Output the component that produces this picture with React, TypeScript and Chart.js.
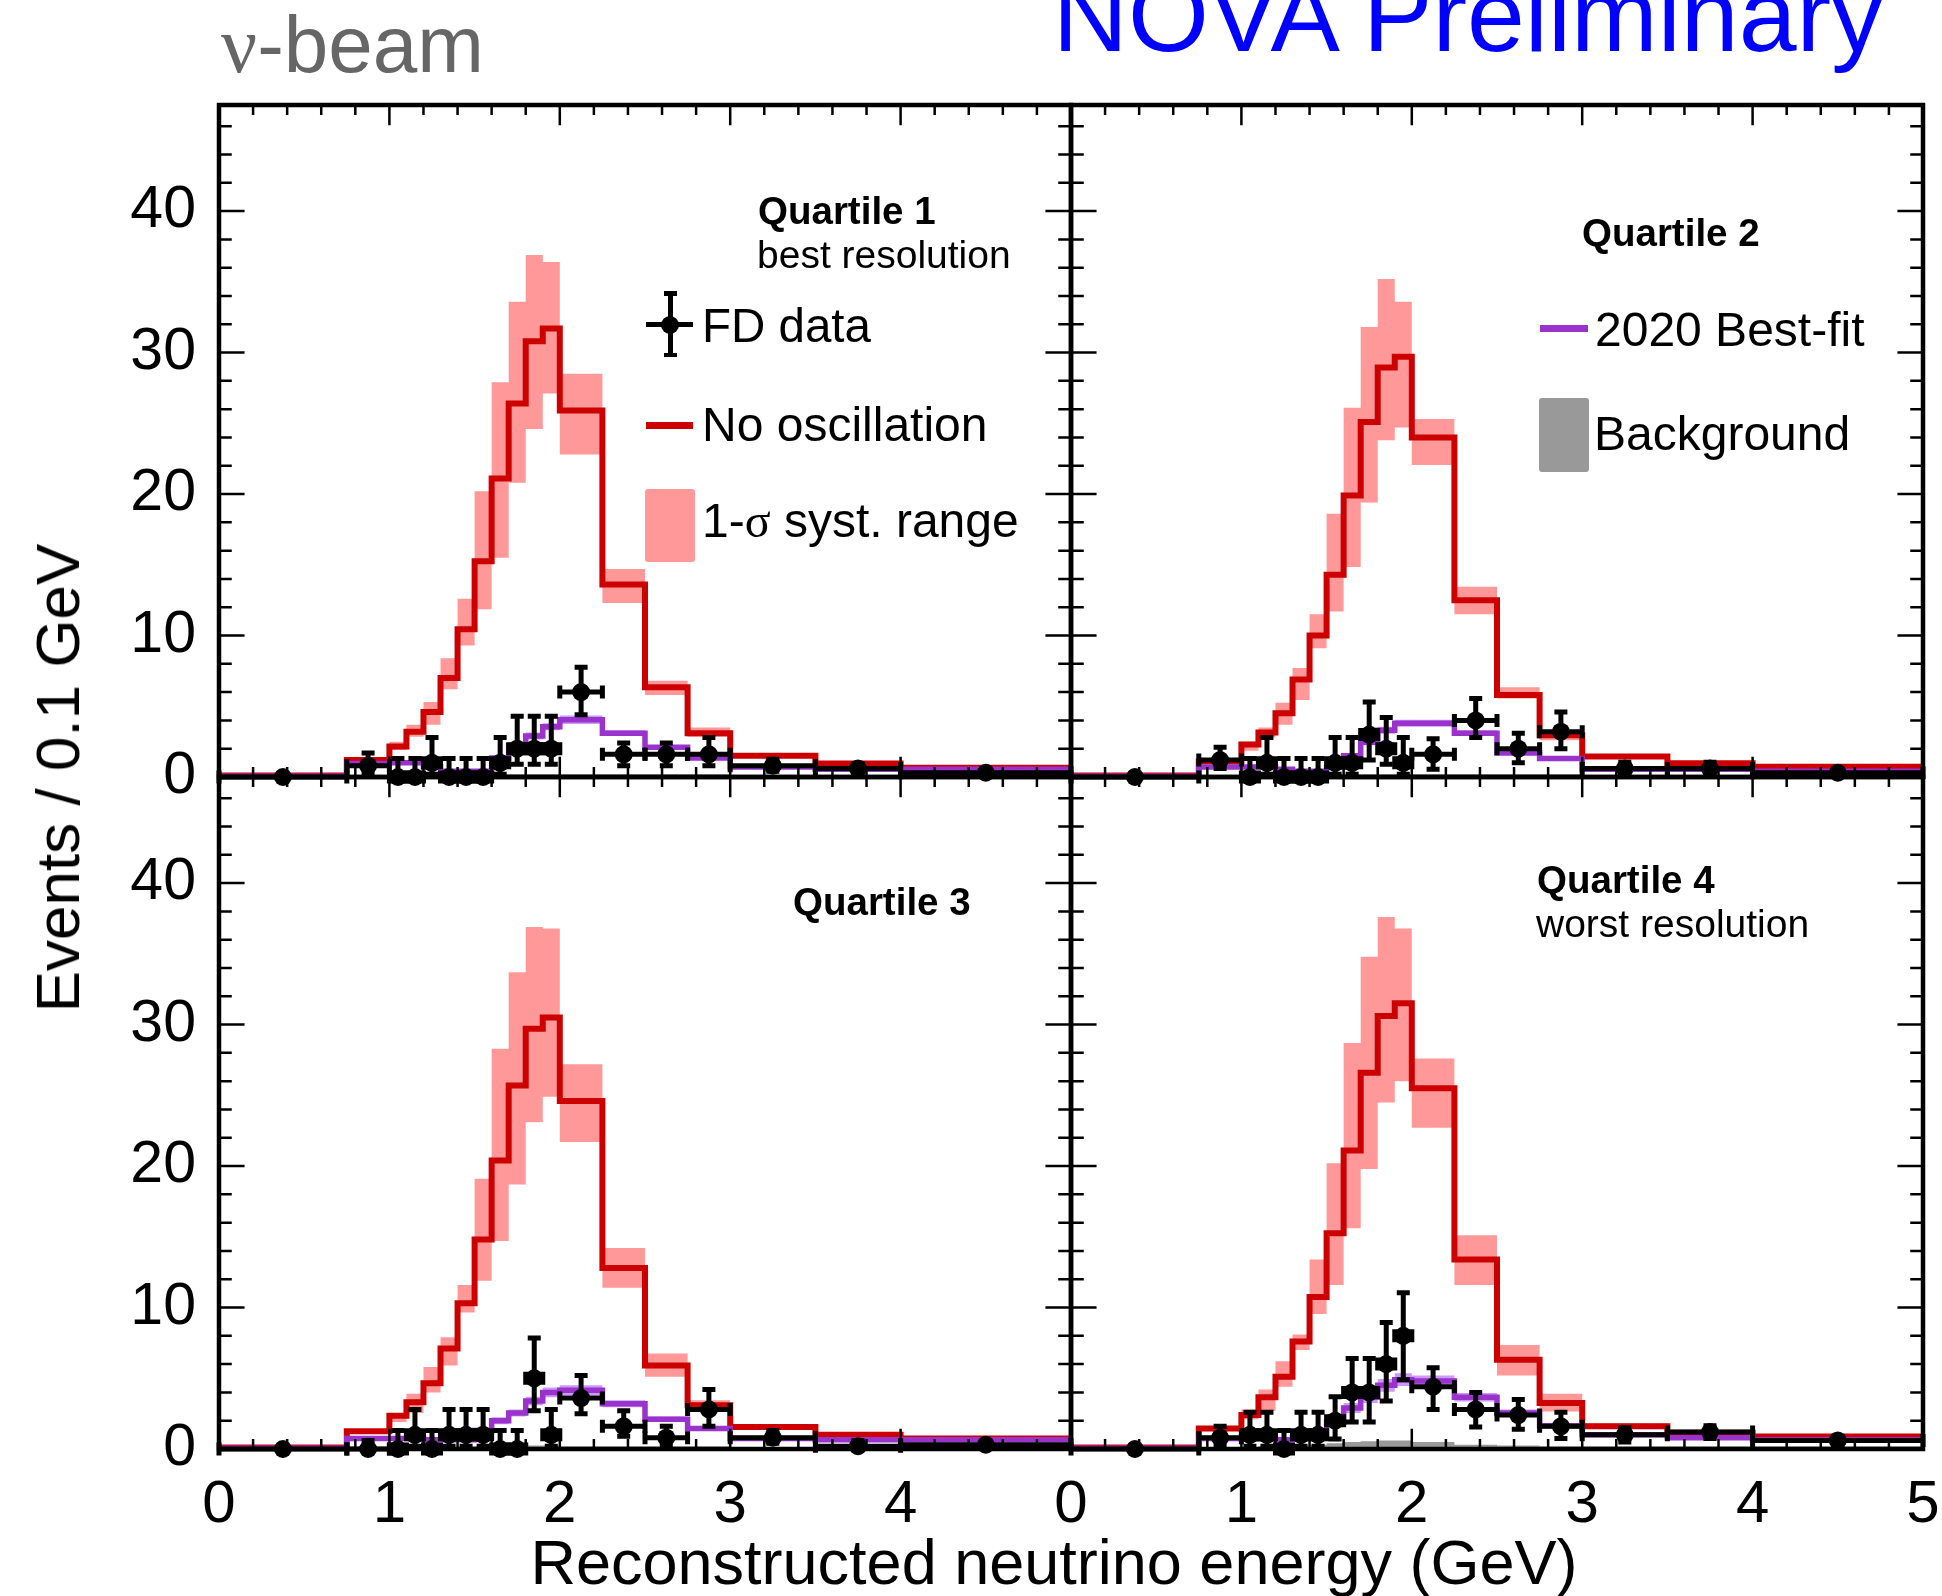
import React, { useEffect, useRef } from 'react';
import { Chart, registerables } from 'chart.js';

Chart.register(...registerables);

const W = 1942;
const H = 1596;
const FONT = '"Liberation Sans", Arial, Helvetica, sans-serif';
const SERIF = '"Liberation Serif", "DejaVu Serif", serif';

// frame edges of the 2x2 panel grid
const PX = [219, 1071, 1923];
const PY = [105, 777, 1449];

const X_MIN = 0;
const X_MAX = 5;
const Y_MAX = 47.5;

const binEdges = [0, 0.75, 1.0, 1.1, 1.2, 1.3, 1.4, 1.5, 1.6, 1.7, 1.8, 1.9, 2.0, 2.25, 2.5, 2.75, 3.0, 3.5, 4.0, 5.0];

const xLabelsLeft = [0, 1, 2, 3, 4];
const xLabelsRight = [0, 1, 2, 3, 4, 5];
const yLabels = [0, 10, 20, 30, 40];
const xMinorStep = 0.2;
const yMinorStep = 2;

// ---- Quartile 1
const q1NoOsc = [0.1, 1.2, 2.15, 3.2, 4.6, 7.0, 10.45, 15.25, 21.1, 26.4, 30.8, 31.7, 25.9, 13.6, 6.35, 3.1, 1.5, 0.95, 0.65];
const q1SystLo = [0.05, 1.05, 1.9, 2.85, 3.7, 6.2, 9.3, 11.85, 15.5, 20.8, 24.6, 27.1, 22.8, 12.3, 5.8, 2.85, 1.35, 0.85, 0.58];
const q1SystHi = [0.15, 1.4, 2.5, 3.7, 5.3, 8.4, 12.6, 20.2, 27.9, 33.6, 36.9, 36.4, 28.5, 14.7, 6.8, 3.5, 1.65, 1.05, 0.72];
const q1Fit = [0.05, 0.95, 1.0, 1.0, 0.7, 0.4, 0.4, 0.4, 1.35, 2.2, 2.9, 3.55, 4.05, 3.1, 2.1, 1.35, 0.7, 0.55, 0.55];
const q1FitLo = [0.03, 0.85, 0.9, 0.9, 0.6, 0.3, 0.3, 0.3, 1.2, 2.0, 2.65, 3.3, 3.75, 2.9, 1.95, 1.25, 0.65, 0.5, 0.5];
const q1FitHi = [0.07, 1.05, 1.1, 1.1, 0.8, 0.5, 0.5, 0.5, 1.5, 2.4, 3.15, 3.8, 4.35, 3.3, 2.25, 1.45, 0.75, 0.6, 0.6];
const q1Bkg = [0, 0.15, 0.15, 0.15, 0.15, 0.15, 0.15, 0.2, 0.2, 0.2, 0.2, 0.2, 0.2, 0.2, 0.2, 0.2, 0.15, 0.15, 0.15];
const q1Data = [0, 0.8, 0, 0, 1.0, 0, 0, 0, 1.0, 2.0, 2.0, 2.0, 6.0, 1.6, 1.6, 1.6, 0.8, 0.6, 0.3];
const q1DataLo = [0, 0.3, 0, 0, 0.2, 0, 0, 0, 0.2, 0.9, 0.9, 0.9, 4.4, 0.8, 0.8, 0.8, 0.4, 0.3, 0.12];
const q1DataHi = [0.15, 1.7, 1.3, 1.3, 2.8, 1.3, 1.3, 1.3, 2.8, 4.3, 4.3, 4.3, 7.75, 2.4, 2.4, 2.8, 1.25, 0.95, 0.5];

// ---- Quartile 2
const q2NoOsc = [0.1, 1.1, 2.3, 3.15, 4.5, 6.9, 10.0, 14.3, 19.9, 25.1, 28.95, 29.7, 24.0, 12.5, 5.8, 2.95, 1.45, 0.97, 0.72];
const q2SystLo = [0.05, 0.95, 1.85, 2.8, 3.7, 5.45, 9.1, 11.7, 14.85, 19.4, 23.8, 24.7, 22.05, 11.5, 5.55, 2.6, 1.3, 0.9, 0.65];
const q2SystHi = [0.15, 1.3, 2.5, 3.5, 5.25, 7.7, 11.5, 18.6, 26.1, 31.8, 35.2, 33.6, 25.3, 13.45, 6.35, 3.2, 1.6, 1.05, 0.8];
const q2Fit = [0.05, 0.7, 0.7, 0.7, 0.55, 0.4, 0.4, 0.7, 1.5, 2.45, 3.3, 3.8, 3.8, 3.1, 1.7, 1.3, 0.55, 0.55, 0.4];
const q2FitLo = [0.03, 0.6, 0.6, 0.6, 0.45, 0.3, 0.3, 0.6, 1.35, 2.25, 3.05, 3.55, 3.55, 2.9, 1.55, 1.2, 0.5, 0.5, 0.35];
const q2FitHi = [0.07, 0.8, 0.8, 0.8, 0.65, 0.5, 0.5, 0.8, 1.65, 2.65, 3.55, 4.05, 4.05, 3.3, 1.85, 1.4, 0.6, 0.6, 0.45];
const q2Bkg = [0, 0.15, 0.15, 0.15, 0.15, 0.15, 0.15, 0.2, 0.2, 0.2, 0.2, 0.2, 0.2, 0.2, 0.2, 0.2, 0.15, 0.15, 0.15];
const q2Data = [0, 1.2, 0, 1.0, 0, 0, 0, 1.0, 1.0, 3.0, 2.0, 1.0, 1.6, 4.0, 2.0, 3.2, 0.6, 0.6, 0.3];
const q2DataLo = [0, 0.6, 0, 0.2, 0, 0, 0, 0.2, 0.2, 1.2, 0.9, 0.2, 0.55, 2.8, 1.0, 2.0, 0.3, 0.3, 0.12];
const q2DataHi = [0.15, 2.1, 1.3, 2.8, 1.3, 1.3, 1.3, 2.8, 2.8, 5.3, 4.2, 2.8, 2.7, 5.55, 3.1, 4.6, 1.05, 1.05, 0.5];

// ---- Quartile 3
const q3NoOsc = [0.1, 1.25, 2.35, 3.3, 4.65, 7.1, 10.3, 14.8, 20.4, 25.7, 29.7, 30.5, 24.6, 12.8, 5.9, 3.1, 1.55, 1.0, 0.75];
const q3SystLo = [0.05, 1.1, 1.9, 2.55, 4.0, 5.9, 9.65, 11.9, 14.7, 18.7, 23.1, 24.9, 21.7, 11.4, 5.1, 2.8, 1.4, 0.9, 0.7];
const q3SystHi = [0.15, 1.4, 2.55, 3.9, 5.8, 7.9, 11.6, 19.1, 28.3, 33.7, 36.9, 36.8, 27.2, 14.2, 6.75, 3.45, 1.7, 1.1, 0.82];
const q3Fit = [0.05, 0.75, 0.75, 0.75, 0.65, 0.65, 0.65, 1.3, 2.0, 2.55, 3.4, 4.0, 4.15, 3.2, 2.1, 1.45, 0.75, 0.65, 0.65];
const q3FitLo = [0.03, 0.6, 0.6, 0.6, 0.5, 0.5, 0.5, 1.1, 1.75, 2.3, 3.1, 3.65, 3.8, 2.95, 1.9, 1.3, 0.65, 0.55, 0.55];
const q3FitHi = [0.07, 0.9, 0.9, 0.9, 0.8, 0.8, 0.8, 1.5, 2.25, 2.8, 3.7, 4.35, 4.5, 3.45, 2.3, 1.6, 0.85, 0.75, 0.75];
const q3Bkg = [0, 0.15, 0.15, 0.15, 0.15, 0.15, 0.2, 0.2, 0.2, 0.25, 0.25, 0.25, 0.2, 0.2, 0.2, 0.2, 0.15, 0.15, 0.15];
const q3Data = [0, 0, 0, 1.0, 0, 1.0, 1.0, 1.0, 0, 0, 5.0, 1.0, 3.6, 1.6, 0.8, 2.8, 0.8, 0.2, 0.3];
const q3DataLo = [0, 0, 0, 0.2, 0, 0.2, 0.2, 0.2, 0, 0, 2.7, 0.2, 2.5, 0.9, 0.2, 1.6, 0.4, 0.05, 0.12];
const q3DataHi = [0.15, 0.6, 1.3, 2.8, 1.3, 2.8, 2.8, 2.8, 1.3, 1.3, 7.85, 2.8, 5.2, 2.7, 1.6, 4.2, 1.3, 0.6, 0.5];

// ---- Quartile 4
const q4NoOsc = [0.1, 1.45, 2.4, 3.65, 5.1, 7.6, 10.75, 15.25, 21.1, 26.6, 30.6, 31.5, 25.5, 13.4, 6.3, 3.25, 1.6, 1.15, 0.88];
const q4SystLo = [0.05, 1.3, 2.1, 2.7, 4.4, 7.0, 9.55, 11.6, 15.6, 19.8, 24.5, 26.0, 22.7, 11.6, 5.2, 2.65, 1.45, 1.05, 0.8];
const q4SystHi = [0.15, 1.6, 2.8, 4.2, 6.2, 8.1, 13.4, 20.2, 28.7, 34.8, 37.6, 36.8, 27.6, 15.1, 7.35, 3.9, 1.8, 1.3, 0.95];
const q4Fit = [0.05, 0.75, 0.75, 0.75, 0.65, 0.8, 1.1, 1.9, 2.9, 3.65, 4.5, 4.9, 4.8, 3.65, 2.55, 1.65, 1.0, 0.8, 0.65];
const q4FitLo = [0.03, 0.6, 0.6, 0.6, 0.5, 0.6, 0.85, 1.6, 2.55, 3.25, 4.05, 4.45, 4.4, 3.35, 2.3, 1.5, 0.9, 0.7, 0.55];
const q4FitHi = [0.07, 0.9, 0.9, 0.9, 0.8, 1.0, 1.35, 2.2, 3.25, 4.05, 4.95, 5.35, 5.2, 3.95, 2.8, 1.8, 1.1, 0.9, 0.75];
const q4Bkg = [0, 0.15, 0.15, 0.2, 0.2, 0.25, 0.3, 0.4, 0.5, 0.55, 0.6, 0.6, 0.5, 0.3, 0.25, 0.2, 0.2, 0.2, 0.2];
const q4Data = [0, 0.8, 1.0, 1.0, 0, 1.0, 1.0, 2.0, 4.0, 4.0, 6.0, 8.0, 4.4, 2.8, 2.4, 1.6, 1.0, 1.2, 0.6];
const q4DataLo = [0, 0.2, 0.2, 0.2, 0, 0.2, 0.2, 0.7, 1.9, 1.9, 3.4, 4.9, 2.8, 1.55, 1.4, 0.75, 0.5, 0.75, 0.35];
const q4DataHi = [0.15, 1.6, 2.6, 2.6, 1.3, 2.6, 2.6, 3.7, 6.4, 6.4, 8.95, 11.05, 5.75, 4.0, 3.5, 2.6, 1.5, 1.65, 0.9];

const COLORS = {
  red: '#cc0000',
  pink: '#ff9999',
  purple: '#9933cc',
  lightPurple: '#cc99ff',
  gray: '#999999',
  black: '#000000',
};

const panels = [
  { col: 0, row: 0, noOsc: q1NoOsc, systLo: q1SystLo, systHi: q1SystHi, fit: q1Fit, fitLo: q1FitLo, fitHi: q1FitHi, bkg: q1Bkg, data: q1Data, dataLo: q1DataLo, dataHi: q1DataHi },
  { col: 1, row: 0, noOsc: q2NoOsc, systLo: q2SystLo, systHi: q2SystHi, fit: q2Fit, fitLo: q2FitLo, fitHi: q2FitHi, bkg: q2Bkg, data: q2Data, dataLo: q2DataLo, dataHi: q2DataHi },
  { col: 0, row: 1, noOsc: q3NoOsc, systLo: q3SystLo, systHi: q3SystHi, fit: q3Fit, fitLo: q3FitLo, fitHi: q3FitHi, bkg: q3Bkg, data: q3Data, dataLo: q3DataLo, dataHi: q3DataHi },
  { col: 1, row: 1, noOsc: q4NoOsc, systLo: q4SystLo, systHi: q4SystHi, fit: q4Fit, fitLo: q4FitLo, fitHi: q4FitHi, bkg: q4Bkg, data: q4Data, dataLo: q4DataLo, dataHi: q4DataHi },
];

function histPoints(vals: number[]) {
  const pts = vals.map((v, i) => ({ x: binEdges[i], y: v }));
  pts.push({ x: binEdges[binEdges.length - 1], y: vals[vals.length - 1] });
  return pts;
}

const binCenters = binEdges.slice(0, -1).map((e, i) => (e + binEdges[i + 1]) / 2);

const errorBarPlugin = {
  id: 'errorBars',
  afterDatasetsDraw(chart: any, _args: any, opts: any) {
    const { ctx } = chart;
    const xs = chart.scales.x;
    const ys = chart.scales.y;
    const { data, lo, hi } = opts;
    ctx.save();
    ctx.strokeStyle = COLORS.black;
    ctx.lineWidth = 5;
    ctx.lineCap = 'butt';
    const cap = 6.5;
    for (let i = 0; i < data.length; i++) {
      const cx = xs.getPixelForValue(binCenters[i]);
      const cy = ys.getPixelForValue(data[i]);
      const x0 = xs.getPixelForValue(binEdges[i]);
      const x1 = xs.getPixelForValue(binEdges[i + 1]);
      const y0 = ys.getPixelForValue(lo[i]);
      const y1 = ys.getPixelForValue(hi[i]);
      ctx.beginPath();
      ctx.moveTo(x0, cy);
      ctx.lineTo(x1, cy);
      ctx.moveTo(x0, cy - cap);
      ctx.lineTo(x0, cy + cap);
      ctx.moveTo(x1, cy - cap);
      ctx.lineTo(x1, cy + cap);
      if (y0 - y1 > 1) {
        ctx.moveTo(cx, y0);
        ctx.lineTo(cx, y1);
        ctx.moveTo(cx - cap, y1);
        ctx.lineTo(cx + cap, y1);
        if (lo[i] > 0) {
          ctx.moveTo(cx - cap, y0);
          ctx.lineTo(cx + cap, y0);
        }
      }
      ctx.stroke();
    }
    ctx.restore();
  },
};

const framePlugin = {
  id: 'frame',
  afterDraw(chart: any) {
    const { ctx, chartArea } = chart;
    const xs = chart.scales.x;
    const ys = chart.scales.y;
    const { left, right, top, bottom } = chartArea;
    const h = bottom - top;
    const w = right - left;
    const xMaj = 0.03 * h;
    const yMaj = 0.03 * w;
    ctx.save();
    ctx.strokeStyle = COLORS.black;
    ctx.lineWidth = 2.5;
    ctx.beginPath();
    const nx = Math.round((X_MAX - X_MIN) / xMinorStep);
    for (let k = 0; k <= nx; k++) {
      const v = X_MIN + k * xMinorStep;
      const major = Math.abs(v - Math.round(v)) < 1e-6;
      const len = major ? xMaj : xMaj / 2;
      const px = xs.getPixelForValue(v);
      ctx.moveTo(px, bottom);
      ctx.lineTo(px, bottom - len);
      ctx.moveTo(px, top);
      ctx.lineTo(px, top + len);
    }
    for (let v = 0; v <= Y_MAX; v += yMinorStep) {
      const major = v % 10 === 0;
      const len = major ? yMaj : yMaj / 2;
      const py = ys.getPixelForValue(v);
      ctx.moveTo(left, py);
      ctx.lineTo(left + len, py);
      ctx.moveTo(right, py);
      ctx.lineTo(right - len, py);
    }
    ctx.stroke();
    ctx.lineWidth = 4.5;
    ctx.strokeRect(left, top, w, h);
    ctx.restore();
  },
};

function makeConfig(p: any): any {
  const left = PX[p.col];
  const right = PX[p.col + 1];
  const top = PY[p.row];
  const bottom = PY[p.row + 1];
  const showY = p.col === 0;
  const showX = p.row === 1;
  const YW = 100;
  const XH = 100;
  const stepLine = (vals: number[], extra: any) => ({
    type: 'line',
    data: histPoints(vals),
    stepped: 'before',
    pointRadius: 0,
    borderJoinStyle: 'miter',
    borderCapStyle: 'butt',
    fill: false,
    ...extra,
  });
  return {
    type: 'line',
    data: {
      datasets: [
        {
          type: 'scatter',
          label: 'FD data',
          data: binCenters.map((x, i) => ({ x, y: p.data[i] })),
          pointRadius: 9,
          pointBackgroundColor: COLORS.black,
          pointBorderColor: COLORS.black,
          pointBorderWidth: 0,
          showLine: false,
          clip: false,
          order: 0,
        },
        stepLine(p.fit, { label: '2020 Best-fit', borderColor: COLORS.purple, borderWidth: 5.5, order: 1 }),
        stepLine(p.fitHi, { label: 'fit band hi', borderColor: 'transparent', borderWidth: 0, backgroundColor: COLORS.lightPurple, fill: 3, order: 2 }),
        stepLine(p.fitLo, { label: 'fit band lo', borderColor: 'transparent', borderWidth: 0, order: 3 }),
        stepLine(p.bkg, { label: 'Background', borderColor: 'transparent', borderWidth: 0, backgroundColor: COLORS.gray, fill: 'origin', order: 4 }),
        stepLine(p.noOsc, { label: 'No oscillation', borderColor: COLORS.red, borderWidth: 6, order: 5 }),
        stepLine(p.systHi, { label: 'syst hi', borderColor: 'transparent', borderWidth: 0, backgroundColor: COLORS.pink, fill: 7, order: 6 }),
        stepLine(p.systLo, { label: 'syst lo', borderColor: 'transparent', borderWidth: 0, order: 7 }),
      ],
    },
    options: {
      animation: false,
      responsive: false,
      events: [],
      layout: {
        padding: {
          left: showY ? left - YW : left,
          right: W - right,
          top: top,
          bottom: showX ? H - bottom - XH : H - bottom,
        },
      },
      scales: {
        x: {
          type: 'linear',
          position: 'bottom',
          min: X_MIN,
          max: X_MAX,
          display: showX,
          grid: { display: false },
          border: { display: false },
          ticks: {
            font: { family: FONT, size: 60 },
            color: COLORS.black,
            padding: 12,
            maxRotation: 0,
            autoSkip: false,
            callback: (v: any) => String(v),
          },
          afterBuildTicks: (s: any) => {
            s.ticks = (p.col === 0 ? xLabelsLeft : xLabelsRight).map((v) => ({ value: v }));
          },
          afterFit: (s: any) => {
            if (!showX) return;
            s.height = XH;
            s.paddingLeft = 0;
            s.paddingRight = 0;
            s.paddingTop = 0;
            s.paddingBottom = 0;
          },
        },
        y: {
          type: 'linear',
          position: 'left',
          min: 0,
          max: Y_MAX,
          display: showY,
          grid: { display: false },
          border: { display: false },
          ticks: {
            font: { family: FONT, size: 59 },
            color: COLORS.black,
            padding: 15,
            autoSkip: false,
            callback: (v: any) => String(v),
          },
          afterBuildTicks: (s: any) => {
            s.ticks = yLabels.map((v) => ({ value: v }));
          },
          afterFit: (s: any) => {
            if (!showY) return;
            s.width = YW;
            s.paddingLeft = 0;
            s.paddingRight = 0;
            s.paddingTop = 0;
            s.paddingBottom = 0;
          },
        },
      },
      plugins: {
        legend: { display: false },
        tooltip: { enabled: false },
        title: { display: false },
        errorBars: { data: p.data, lo: p.dataLo, hi: p.dataHi },
      },
    },
    plugins: [errorBarPlugin, framePlugin],
  };
}

function T({ x, y, size, children, bold, color, anchor }: any) {
  const style: any = {
    position: 'absolute',
    left: x,
    top: y - 0.8465 * size,
    fontSize: size,
    lineHeight: `${size}px`,
    whiteSpace: 'nowrap',
    fontFamily: FONT,
    fontWeight: bold ? 'bold' : 'normal',
    color: color || '#000',
  };
  if (anchor === 'middle') style.transform = 'translateX(-50%)';
  return <div style={style}>{children}</div>;
}

function Box({ x, y, w, h, color, radius }: any) {
  return (
    <div
      style={{ position: 'absolute', left: x, top: y, width: w, height: h, background: color, borderRadius: radius || 0 }}
    />
  );
}

export default function App() {
  const canvasRefs = useRef<(HTMLCanvasElement | null)[]>([]);

  useEffect(() => {
    document.body.style.margin = '0';
    const charts = panels.map((p, k) => new Chart(canvasRefs.current[k] as HTMLCanvasElement, makeConfig(p)));
    return () => {
      charts.forEach((c) => c.destroy());
    };
  }, []);

  return (
    <div style={{ position: 'relative', width: W, height: H, overflow: 'hidden', background: '#fff', fontFamily: FONT }}>
      {panels.map((_, k) => (
        <canvas
          key={k}
          ref={(el) => {
            canvasRefs.current[k] = el;
          }}
          width={W}
          height={H}
          style={{ position: 'absolute', left: 0, top: 0, width: W, height: H }}
        />
      ))}

      {/* headers */}
      <T x={221} y={73} size={80} color="#666666">
        <span style={{ fontFamily: SERIF }}>ν</span>-beam
      </T>
      <T x={1468} y={51} size={104} color="#0000ff" anchor="middle">
        NOVA Preliminary
      </T>

      {/* axis titles */}
      <div
        style={{
          position: 'absolute',
          left: 57.5,
          top: 778,
          transform: 'translate(-50%, -50%) rotate(-90deg)',
          fontSize: 62,
          lineHeight: '62px',
          whiteSpace: 'nowrap',
          fontFamily: FONT,
          color: '#000',
        }}
      >
        Events / 0.1 GeV
      </div>
      <T x={1054} y={1584} size={63} anchor="middle">
        Reconstructed neutrino energy (GeV)
      </T>

      {/* panel labels */}
      <T x={758} y={225} size={38.5} bold>Quartile 1</T>
      <T x={757} y={268} size={39}>best resolution</T>
      <T x={1582} y={247} size={38.5} bold>Quartile 2</T>
      <T x={793} y={916} size={38.5} bold>Quartile 3</T>
      <T x={1537} y={894} size={38.5} bold>Quartile 4</T>
      <T x={1536} y={937} size={39}>worst resolution</T>

      {/* legend, quartile 1 */}
      <Box x={646} y={322} w={47} h={5} color={COLORS.black} />
      <Box x={667.5} y={292} w={5} h={64} color={COLORS.black} />
      <Box x={663.5} y={291} w={13} h={4.5} color={COLORS.black} />
      <Box x={663.5} y={352.5} w={13} h={4.5} color={COLORS.black} />
      <div style={{ position: 'absolute', left: 661, top: 315.5, width: 18, height: 18, borderRadius: '50%', background: COLORS.black }} />
      <T x={702} y={342} size={47.5}>FD data</T>

      <Box x={646} y={421.5} w={47} h={7} color={COLORS.red} />
      <T x={702} y={442} size={48}>No oscillation</T>

      <Box x={645} y={489} w={50} h={73} color={COLORS.pink} radius={3} />
      <T x={702} y={538} size={48}>
        1-<span style={{ fontFamily: SERIF }}>σ</span> syst. range
      </T>

      {/* legend, quartile 2 */}
      <Box x={1540} y={324.5} w={48} h={7} color={COLORS.purple} />
      <T x={1595} y={347} size={48}>2020 Best-fit</T>
      <Box x={1539} y={398} w={50} h={74} color={COLORS.gray} radius={3} />
      <T x={1594} y={451} size={48}>Background</T>
    </div>
  );
}
